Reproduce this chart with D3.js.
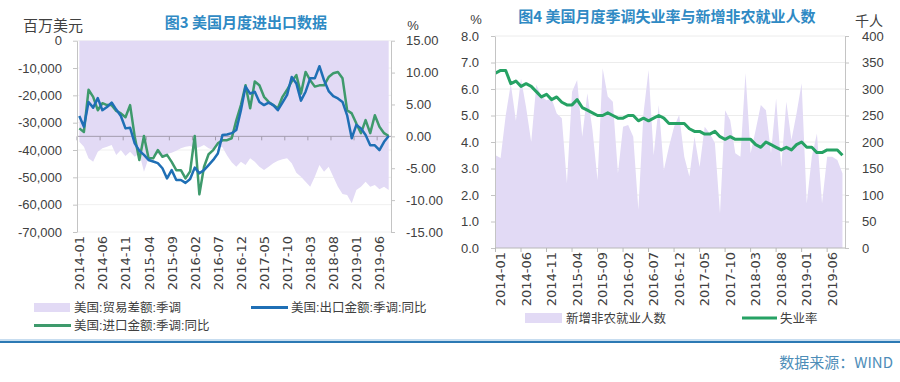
<!DOCTYPE html>
<html><head><meta charset="utf-8">
<script src="https://cdn.jsdelivr.net/npm/d3@7"></script>
<style>
body{margin:0;background:#fff;}
svg{display:block;background:#fff;}
text{font-family:"Liberation Sans",Arial,"Noto Sans CJK SC",sans-serif;fill:#404040;}
.cjk{font-family:"Noto Sans CJK SC",sans-serif;}
.date{font-family:"DejaVu Sans",sans-serif;font-size:13px;}
</style></head><body>
<svg id="c" width="900" height="382"></svg>
<script>
// ---------- Chart 3 data (2014-01 .. 2019-08) ----------
const tradeBalance = [-36950,-38780,-43030,-44270,-40610,-39390,-38780,-38160,-41820,-39990,-42190,-40610,
  -42440,-41200,-47930,-43030,-42190,-41460,-42440,-41460,-40980,-40250,-39390,-38780,
  -38530,-39390,-39010,-38160,-39390,-39990,-38500,-39000,-42000,-44500,-46100,-44270,
  -45480,-43030,-44270,-46100,-47300,-46100,-44870,-43900,-43400,-43030,-44870,-48300,
  -49760,-51590,-53420,-49760,-45480,-47930,-46100,-49760,-53420,-56090,-56460,-59500,
  -54630,-53420,-51590,-53420,-52800,-54380,-53420,-54630];
const exportYoY = [3.2,1.5,5.4,4.5,6.0,4.1,4.6,5.3,4.2,3.2,1.25,1.35,
  -1.1,-2.25,-2.9,-3.7,-3.95,-4.2,-5.0,-6.6,-5.3,-6.85,-6.85,-7.3,
  -6.7,-4.9,-5.8,-5.3,-4.5,-3.7,-2.7,0.2,0.3,0.5,1.0,4.1,
  7.8,6.7,7.0,5.4,4.9,5.3,4.9,4.1,5.3,6.5,9.3,8.3,
  5.6,7.0,9.1,9.1,11.0,8.8,7.1,6.3,5.95,5.4,3.3,-0.3,
  1.8,1.25,0.2,-1.4,-1.4,-2.15,-0.85,0.05];
const importYoY = [1.25,0.7,7.3,6.2,4.1,5.2,4.9,4.9,4.0,3.6,3.0,4.9,
  -0.05,-3.7,0.05,-3.45,-3.45,-2.15,-3.2,-2.9,-4.0,-5.3,-5.3,-6.6,
  -5.5,0.05,-9.1,-4.8,-2.8,-2.15,-1.1,-0.6,-0.6,-0.3,2.5,4.9,
  8.0,4.4,8.6,8.0,6.2,5.4,4.9,4.4,6.2,7.3,8.6,9.6,
  6.7,10.1,8.8,7.8,8.0,8.0,9.3,9.9,10.1,9.1,4.1,3.6,
  2.0,0.5,2.55,0.5,3.3,1.5,0.5,0.05];
// ---------- Chart 4 data (2014-01 .. 2019-09) ----------
const nonfarm = [175,170,250,310,240,320,265,200,308,286,279,282,
  254,245,122,295,317,210,292,223,128,339,286,276,
  141,229,232,210,72,254,336,175,270,147,191,229,
  251,172,135,210,153,229,216,198,65,260,241,179,
  172,330,179,223,270,260,179,282,153,276,204,254,
  311,84,172,216,84,172,172,166,141];
const unemployment = [6.6,6.7,6.7,6.2,6.3,6.1,6.2,6.1,5.9,5.7,5.8,5.6,
  5.7,5.5,5.4,5.4,5.6,5.3,5.2,5.1,5.0,5.0,5.1,5.0,
  4.9,4.9,5.0,5.0,4.8,4.9,4.8,4.9,5.0,4.9,4.7,4.7,
  4.7,4.7,4.5,4.4,4.4,4.3,4.3,4.4,4.2,4.1,4.2,4.1,
  4.1,4.1,4.1,3.9,3.8,4.0,3.9,3.8,3.7,3.8,3.7,3.9,
  4.0,3.8,3.8,3.6,3.6,3.7,3.7,3.7,3.5];
// ---------- tick labels ----------
const dateTickLabels = ["2014-01","2014-06","2014-11","2015-04","2015-09","2016-02","2016-07",
  "2016-12","2017-05","2017-10","2018-03","2018-08","2019-01","2019-06"];
const tradeTicks = [0,-10000,-20000,-30000,-40000,-50000,-60000,-70000];
const yoyTicks = [15,10,5,0,-5,-10,-15];
const rateTicks = [0,1,2,3,4,5,6,7,8];
const jobsTicks = [0,50,100,150,200,250,300,350,400];
const title3 = "图3  美国月度进出口数据";
const title4 = "图4  美国月度季调失业率与新增非农就业人数";
const legend3 = ["美国:贸易差额:季调","美国:出口金额:季调:同比","美国:进口金额:季调:同比"];
const legend4 = ["新增非农就业人数","失业率"];
const source = "数据来源：WIND";

const loc = d3.formatLocale({decimal:".",thousands:",",grouping:[3],currency:["$",""],minus:"-"});
const fmtThousands = loc.format(",");
const fmt2 = loc.format(".2f");
const fmt1 = loc.format(".1f");

const svg = d3.select("#c");
const LAV = "#e2daf5", BLUE = "#1f6fb5", GREEN3 = "#3e9a6c", GREEN4 = "#26a264";
const AX = "#c4c4c4", TITLE = "#2f8ac4";

// ================= Chart 3 =================
const months3 = d3.range(tradeBalance.length);
const x3 = d3.scaleBand().domain(months3).range([77, 391]).padding(0);
const cx3 = i => x3(i) + x3.bandwidth()/2;
const yL = d3.scaleLinear().domain([-70000, 0]).range([232, 40.7]);
const yR = d3.scaleLinear().domain([-15, 15]).range([232, 40.7]);

const g3 = svg.append("g");
g3.selectAll("line.grid").data(tradeTicks).join("line")
  .attr("x1", 77).attr("x2", 391).attr("y1", d=>yL(d)).attr("y2", d=>yL(d))
  .attr("stroke", "#f0f0f0");
g3.append("path")
  .attr("fill", LAV)
  .attr("d", d3.area().x((d,i)=>cx3(i)).y0(yL(0)).y1(d=>yL(d))(tradeBalance));
const zeroY = yR(0);
g3.append("line").attr("x1",77).attr("x2",391).attr("y1",zeroY).attr("y2",zeroY)
  .attr("stroke","#a39cae").attr("stroke-width",1);
g3.selectAll("line.ct").data(d3.range(0, 14)).join("line")
  .attr("x1", k=>x3(k*5)).attr("x2", k=>x3(k*5)).attr("y1", zeroY).attr("y2", zeroY+4)
  .attr("stroke","#a39cae");
const line3 = arr => d3.line().x((d,i)=>cx3(i)).y(d=>yR(d))(arr);
g3.append("path").attr("d", line3(importYoY)).attr("fill","none").attr("stroke",GREEN3)
  .attr("stroke-width",2.5).attr("stroke-linejoin","round");
g3.append("path").attr("d", line3(exportYoY)).attr("fill","none").attr("stroke",BLUE)
  .attr("stroke-width",2.5).attr("stroke-linejoin","round");
const axL = g3.append("g").attr("transform","translate(77,0)")
  .call(d3.axisLeft(yL).tickValues(tradeTicks).tickFormat(fmtThousands).tickSize(4).tickSizeOuter(0).tickPadding(11));
const axR = g3.append("g").attr("transform","translate(391,0)")
  .call(d3.axisRight(yR).tickValues(yoyTicks).tickFormat(fmt2).tickSize(4).tickSizeOuter(0).tickPadding(11));
[axL, axR].forEach(a=>{
  a.select(".domain").attr("stroke",AX);
  a.selectAll(".tick line").attr("stroke",AX);
  a.selectAll(".tick text").attr("font-size","13px").attr("fill","#404040")
    .attr("font-family","Liberation Sans, Arial, sans-serif");
});
g3.selectAll("text.d3l").data(dateTickLabels).join("text").attr("class","date")
  .attr("transform",(d,k)=>`translate(${cx3(k*5)+5},236) rotate(-90)`)
  .attr("text-anchor","end").text(d=>d);
svg.append("text").attr("class","cjk").attr("x",246).attr("y",28).attr("text-anchor","middle")
  .attr("font-size","15px").attr("font-weight","bold").style("fill",TITLE).text(title3);
svg.append("text").attr("class","cjk").attr("x",23).attr("y",31).attr("font-size","15px").text("百万美元");
svg.append("text").attr("x",413).attr("y",30).attr("text-anchor","middle").attr("font-size","13px").text("%");
const lg3 = svg.append("g").attr("class","cjk");
lg3.append("rect").attr("x",34).attr("y",303).attr("width",36).attr("height",9).attr("fill",LAV);
lg3.append("text").attr("x",74).attr("y",312).attr("font-size","12.5px").text(legend3[0]);
lg3.append("line").attr("x1",251).attr("x2",288).attr("y1",307.5).attr("y2",307.5).attr("stroke",BLUE).attr("stroke-width",3);
lg3.append("text").attr("x",291).attr("y",312).attr("font-size","12.5px").text(legend3[1]);
lg3.append("line").attr("x1",34).attr("x2",71).attr("y1",325.5).attr("y2",325.5).attr("stroke",GREEN3).attr("stroke-width",3);
lg3.append("text").attr("x",74).attr("y",330).attr("font-size","12.5px").text(legend3[2]);

// ================= Chart 4 =================
const x4 = d3.scaleLinear().domain([0, 68.5]).range([495.5, 845]);
const yU = d3.scaleLinear().domain([0, 8]).range([248, 36]);
const yJ = d3.scaleLinear().domain([0, 400]).range([248, 36]);
const g4 = svg.append("g");
g4.selectAll("line.grid").data(rateTicks.slice(1)).join("line")
  .attr("x1",495).attr("x2",845).attr("y1",d=>yU(d)).attr("y2",d=>yU(d)).attr("stroke","#ececec");
g4.append("path")
  .attr("fill", LAV)
  .attr("d", d3.area().x((d,i)=>x4(i)).y0(yJ(0)).y1(d=>yJ(d))(nonfarm));
g4.append("path").attr("d", d3.line().x((d,i)=>x4(i)).y(d=>yU(d))(unemployment))
  .attr("fill","none").attr("stroke",GREEN4).attr("stroke-width",3).attr("stroke-linejoin","round");
const axU = g4.append("g").attr("transform","translate(495,0)")
  .call(d3.axisLeft(yU).tickValues(rateTicks).tickFormat(fmt1).tickSize(4).tickSizeOuter(0).tickPadding(12));
const axJ = g4.append("g").attr("transform","translate(845,0)")
  .call(d3.axisRight(yJ).tickValues(jobsTicks).tickFormat(d3.format("d")).tickSize(4).tickSizeOuter(0).tickPadding(13));
[axU, axJ].forEach(a=>{
  a.select(".domain").attr("stroke",AX);
  a.selectAll(".tick line").attr("stroke",AX);
  a.selectAll(".tick text").attr("font-size","13px").attr("fill","#404040")
    .attr("font-family","Liberation Sans, Arial, sans-serif");
});
g4.append("line").attr("x1",495).attr("x2",845).attr("y1",248).attr("y2",248).attr("stroke","#b8b8b8");
g4.selectAll("line.bt").data(d3.range(0,14)).join("line")
  .attr("x1",k=>x4(k*5)).attr("x2",k=>x4(k*5)).attr("y1",248).attr("y2",252).attr("stroke","#b8b8b8");
g4.selectAll("text.d4l").data(dateTickLabels).join("text").attr("class","date")
  .attr("transform",(d,k)=>`translate(${x4(k*5)+9.5},252) rotate(-90)`)
  .attr("text-anchor","end").text(d=>d);
svg.append("text").attr("class","cjk").attr("x",667).attr("y",22).attr("text-anchor","middle")
  .attr("font-size","15px").attr("font-weight","bold").style("fill",TITLE).text(title4);
svg.append("text").attr("x",476).attr("y",24).attr("text-anchor","middle").attr("font-size","13px").text("%");
svg.append("text").attr("class","cjk").attr("x",855).attr("y",26).attr("font-size","14px").text("千人");
const lg4 = svg.append("g").attr("class","cjk");
lg4.append("rect").attr("x",525).attr("y",313).attr("width",37).attr("height",10).attr("fill",LAV);
lg4.append("text").attr("x",566).attr("y",323).attr("font-size","12.5px").text(legend4[0]);
lg4.append("line").attr("x1",742).attr("x2",777).attr("y1",318).attr("y2",318).attr("stroke",GREEN4).attr("stroke-width",3);
lg4.append("text").attr("x",780).attr("y",323).attr("font-size","12.5px").text(legend4[1]);

// ================= footer =================
svg.append("line").attr("x1",0).attr("x2",900).attr("y1",340).attr("y2",340).attr("stroke","#8fbbe0").attr("stroke-width",1);
svg.append("line").attr("x1",0).attr("x2",900).attr("y1",342).attr("y2",342).attr("stroke","#2c79b4").attr("stroke-width",2);
svg.append("text").attr("class","cjk").attr("x",893).attr("y",368).attr("text-anchor","end")
  .attr("font-size","15px").style("fill","#4d8db8").text(source);
</script></body></html>
